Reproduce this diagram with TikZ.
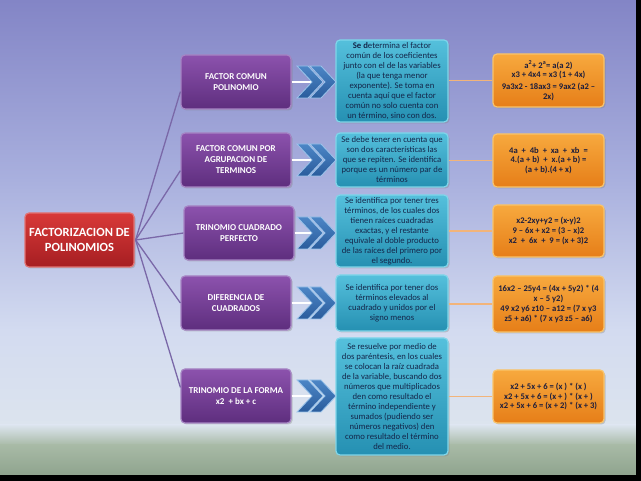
\documentclass[tikz,border=0pt]{standalone}
\usepackage{fontspec}
\setmainfont{Carlito}
\usetikzlibrary{calc,shadows}
\definecolor{bgA}{HTML}{8385C6}
\definecolor{bgB}{HTML}{A9B0DE}
\definecolor{bgC}{HTML}{D3DBF0}
\definecolor{bgD}{HTML}{DCE4EE}
\definecolor{bgE}{HTML}{A8BAA6}
\definecolor{bgF}{HTML}{8FA48E}
\definecolor{purT}{HTML}{8C52AD}
\definecolor{purB}{HTML}{5E2E7E}
\definecolor{purD}{HTML}{A684C4}
\definecolor{redT}{HTML}{D83A38}
\definecolor{redB}{HTML}{A61E22}
\definecolor{redD}{HTML}{E27272}
\definecolor{cyT}{HTML}{55C0DC}
\definecolor{cyB}{HTML}{2590B2}
\definecolor{cyD}{HTML}{7FD6EA}
\definecolor{orT}{HTML}{F7A93E}
\definecolor{orB}{HTML}{E67E18}
\definecolor{orD}{HTML}{F9C46A}
\definecolor{chT}{HTML}{4C86C6}
\definecolor{chB}{HTML}{2A5C9C}
\definecolor{chD}{HTML}{9CC4EA}
\definecolor{txtC}{HTML}{14264A}
\definecolor{txtO}{HTML}{1E1E3C}
\definecolor{linP}{HTML}{7A68A8}
\definecolor{linO}{HTML}{F2B47A}
\begin{document}
\begin{tikzpicture}[x=1pt,y=-1pt,
  box/.style={rounded corners=4pt, line width=1.2pt, inner sep=1pt, align=center,
    drop shadow={shadow xshift=1.5pt,shadow yshift=-1.5pt,opacity=0.35}},
  redbox/.style={box, draw=redD, top color=redT, bottom color=redB, text=white,
    font=\bfseries\fontsize{12.5}{15.5}\selectfont, minimum width=109pt, minimum height=54pt},
  purbox/.style={box, draw=purD, top color=purT, bottom color=purB, text=white,
    font=\bfseries\fontsize{9}{11}\selectfont, minimum width=110pt, minimum height=54pt},
  cybox/.style={box, draw=cyD, top color=cyT, bottom color=cyB, text=txtC,
    font=\fontsize{8.7}{10}\selectfont, minimum width=112pt},
  orbox/.style={box, draw=orD, top color=orT, bottom color=orB, text=txtO,
    font=\bfseries\fontsize{8.6}{9.8}\selectfont, minimum width=111pt},
  purline/.style={draw=linP, line width=1.3pt},
  orline/.style={draw=linO, line width=1.6pt},
  whiteline/.style={draw=white, line width=2pt},
  chev/.pic={
    \path[top color=chT, bottom color=chB, draw=chD, line width=0.8pt, line join=miter]
      (0,-16) -- (11,-16) -- (26,0) -- (11,16) -- (0,16) -- (15,0) -- cycle;
    \path[top color=chT, bottom color=chB, draw=chD, line width=0.8pt, line join=miter]
      (13,-16) -- (24,-16) -- (39,0) -- (24,16) -- (13,16) -- (28,0) -- cycle;
  }
]
% background
\useasboundingbox (0,0) rectangle (641,481);
\shade[top color=bgA, bottom color=bgB] (0,0) rectangle (641,180.5);
\shade[top color=bgB, bottom color=bgC] (0,180) rectangle (641,330.5);
\shade[top color=bgC, bottom color=bgD] (0,330) rectangle (641,425.5);
\shade[top color=bgD, bottom color=bgE] (0,425) rectangle (641,445.5);
\shade[top color=bgE, bottom color=bgF] (0,445) rectangle (641,475);
\fill[black] (0,475) rectangle (641,481);
\fill[black] (636,0) rectangle (641,481);

% main node
\node[redbox] (r) at (79.5,240) {FACTORIZACION DE\\POLINOMIOS};

% purple nodes
\node[purbox] (p1) at (236,82) {FACTOR COMUN\\POLINOMIO};
\node[purbox] (p2) at (236,160) {FACTOR COMUN POR\\AGRUPACION DE\\TERMINOS};
\node[purbox] (p3) at (239,233) {TRINOMIO CUADRADO\\PERFECTO};
\node[purbox] (p4) at (236,303) {DIFERENCIA DE\\CUADRADOS};
\node[purbox] (p5) at (236,396) {TRINOMIO DE LA FORMA\\x2 \ + bx + c};

% cyan nodes
\node[cybox, minimum height=82pt] (c1) at (392,81) {\textbf{Se d}etermina el factor\\común de los coeficientes\\junto con el de las variables\\(la que tenga menor\\exponente). Se toma en\\cuenta aquí que el factor\\común no solo cuenta con\\un término, sino con dos.};
\node[cybox, minimum height=54pt] (c2) at (392,160) {Se debe tener en cuenta que\\son dos características las\\que se repiten. Se identifica\\porque es un número par de\\términos};
\node[cybox, minimum height=72pt] (c3) at (392,231) {Se identifica por tener tres\\términos, de los cuales dos\\tienen raíces cuadradas\\exactas, y el restante\\equivale al doble producto\\de las raíces del primero por\\el segundo.};
\node[cybox, minimum height=56pt] (c4) at (392,303) {Se identifica por tener dos\\términos elevados al\\cuadrado y unidos por el\\signo menos};
\node[cybox, minimum height=117pt] (c5) at (392,396.5) {Se resuelve por medio de\\dos paréntesis, en los cuales\\se colocan la raíz cuadrada\\de la variable, buscando dos\\números que multiplicados\\den como resultado el\\término independiente y\\sumados (pudiendo ser\\números negativos) den\\como resultado el término\\del medio.};

% orange nodes
\node[orbox, minimum height=53pt] (o1) at (548.5,80.5) {a\textsuperscript{2}+ 2\textsuperscript{a}= a(a 2)\\x3 + 4x4 = x3 (1 + 4x)\\[2pt]9a3x2 - 18ax3 = 9ax2 (a2 –\\2x)};
\node[orbox, minimum height=53pt] (o2) at (548.5,160.5) {4a \ + \ 4b \ + \ xa \ + \ xb \ =\\4.(a + b) \ + \ x.(a + b) =\\(a + b).(4 + x)};
\node[orbox, minimum height=52pt] (o3) at (548.5,231) {x2-2xy+y2 = (x-y)2\\9 – 6x + x2 = (3 – x)2\\x2 \ + \ 6x \ + \ 9 = (x + 3)2};
\node[orbox, minimum height=56pt] (o4) at (548.5,304) {16x2 – 25y4 = (4x + 5y2) * (4\\x – 5 y2)\\49 x2 y6 z10 – a12 = (7 x y3\\z5 + a6) * (7 x y3 z5 – a6)};
\node[orbox, minimum height=53pt] (o5) at (548.5,396.5) {x2 + 5x + 6 = (x ) * (x )\\x2 + 5x + 6 = (x + ) * (x + )\\x2 + 5x + 6 = (x + 2) * (x + 3)};

% connectors red -> purple
\coordinate (rs) at ($(r.east)+(1,0)$);
\draw[purline] (rs) -- ($(p1.south west)+(0,-18)$);
\draw[purline] (rs) -- ($(p2.south west)+(0,-17)$);
\draw[purline] (rs) -- (p3.west);
\draw[purline] (rs) -- (p4.west);
\draw[purline] (rs) -- ($(p5.north west)+(0,19)$);

% purple -> cyan (white line + chevron)
\coordinate (chx) at (297,0);
\foreach \i in {1,...,5}{
  \draw[whiteline] (p\i.east) -- ($(p\i.east -| chx)+(24,0)$);
  \pic at (p\i.east -| chx) {chev};
}

% cyan -> orange
\foreach \i in {1,...,5}{
  \draw[orline] (c\i.east |- o\i.west) -- (o\i.west);
}
\end{tikzpicture}
\end{document}
